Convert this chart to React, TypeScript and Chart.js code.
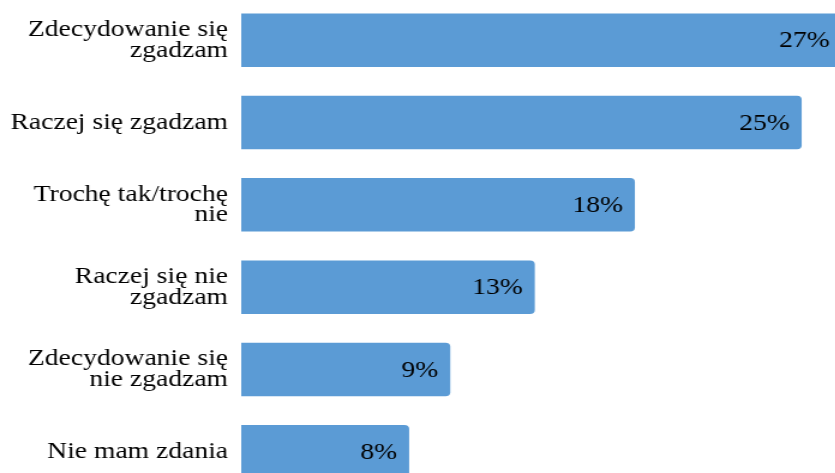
import React, { useEffect, useRef } from "react";
import { Chart, registerables } from "chart.js";

Chart.register(...registerables);

const categories: (string | string[])[] = [
  ["Zdecydowanie się", "zgadzam"],
  "Raczej się zgadzam",
  ["Trochę tak/trochę", "nie"],
  ["Raczej się nie", "zgadzam"],
  ["Zdecydowanie się", "nie zgadzam"],
  "Nie mam zdania",
];
const values = [27.0, 25.2, 17.7, 13.2, 9.4, 7.55];
const valueLabels = ["27%", "25%", "18%", "13%", "9%", "8%"];

const FONT = "'Liberation Serif', 'Times New Roman', serif";
const BAR_COLOR = "#5B9BD5";
const TEXT_COLOR = "#000000";

const valueLabelPlugin = {
  id: "valueLabels",
  afterDatasetsDraw(chart: any) {
    const { ctx } = chart;
    const meta = chart.getDatasetMeta(0);
    ctx.save();
    ctx.font = `23px ${FONT}`;
    ctx.fillStyle = TEXT_COLOR;
    ctx.textAlign = "right";
    ctx.textBaseline = "middle";
    meta.data.forEach((bar: any, i: number) => {
      ctx.fillText(valueLabels[i], bar.x - 10, bar.y + 1);
    });
    ctx.restore();
  },
};

export default function App() {
  const canvasRef = useRef<HTMLCanvasElement | null>(null);

  useEffect(() => {
    const canvas = canvasRef.current;
    if (!canvas) return;
    const chart = new Chart(canvas, {
      type: "bar",
      data: {
        labels: categories,
        datasets: [
          {
            data: values,
            backgroundColor: BAR_COLOR,
            borderRadius: 4,
            borderSkipped: "start",
            barPercentage: 0.65,
            categoryPercentage: 1,
          },
        ],
      },
      options: {
        indexAxis: "y",
        responsive: false,
        animation: false,
        layout: { padding: 0 },
        plugins: {
          legend: { display: false },
          tooltip: { enabled: false },
        },
        scales: {
          x: { display: false, min: 0, max: 30 },
          y: {
            grid: { display: false, drawTicks: false },
            border: { display: false },
            ticks: {
              color: TEXT_COLOR,
              font: { family: FONT, size: 23, lineHeight: 0.9 },
              padding: 11,
            },
            afterFit(scale: any) {
              scale.width = 201;
              scale.paddingTop = 0;
              scale.paddingBottom = 0;
            },
          },
        },
      },
      plugins: [valueLabelPlugin],
    } as any);
    return () => chart.destroy();
  }, []);

  return (
    <div
      style={{
        position: "fixed",
        left: 0,
        top: 0,
        width: 835,
        height: 473,
        overflow: "hidden",
        background: "#ffffff",
      }}
    >
      <canvas
        ref={canvasRef}
        width={757}
        height={494}
        style={{
          position: "absolute",
          left: 0,
          top: -1,
          transform: "scaleX(1.2)",
          transformOrigin: "0 0",
        }}
      />
    </div>
  );
}
